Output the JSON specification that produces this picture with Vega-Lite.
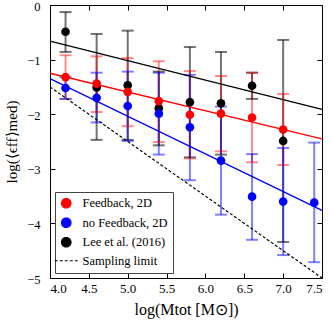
{
  "$schema": "https://vega.github.io/schema/vega-lite/v6.json",
  "width": 272,
  "height": 273,
  "autosize": {"type": "none"},
  "padding": {"left": 50, "top": 5, "right": 10, "bottom": 42},
  "background": "white",
  "config": {
    "view": {"stroke": "black", "strokeWidth": 1},
    "font": "Liberation Serif",
    "axis": {"grid": false, "domain": false, "tickColor": "black", "labelColor": "black", "titleColor": "black", "labelFont": "Liberation Serif", "titleFont": "Liberation Serif", "titleFontWeight": "normal"}
  },
  "datasets": {
    "pts": [
      {"series": "Lee et al. (2016)", "x": 4.2, "y": -0.49, "lo": -0.86, "hi": -0.13},
      {"series": "Lee et al. (2016)", "x": 4.6, "y": -1.51, "lo": -2.47, "hi": -0.53},
      {"series": "Lee et al. (2016)", "x": 5.0, "y": -1.47, "lo": -2.47, "hi": -0.47},
      {"series": "Lee et al. (2016)", "x": 5.4, "y": -1.89, "lo": -2.57, "hi": -1.22},
      {"series": "Lee et al. (2016)", "x": 5.8, "y": -1.78, "lo": -2.79, "hi": -0.77},
      {"series": "Lee et al. (2016)", "x": 6.2, "y": -1.80, "lo": -2.74, "hi": -0.86},
      {"series": "Lee et al. (2016)", "x": 6.6, "y": -1.48, "lo": -1.72, "hi": -1.24},
      {"series": "Lee et al. (2016)", "x": 7.0, "y": -2.49, "lo": -4.34, "hi": -0.64},
      {"series": "Feedback, 2D", "x": 4.2, "y": -1.32, "lo": -1.72, "hi": -0.92},
      {"series": "Feedback, 2D", "x": 4.6, "y": -1.44, "lo": -1.96, "hi": -0.94},
      {"series": "Feedback, 2D", "x": 5.0, "y": -1.59, "lo": -2.22, "hi": -0.97},
      {"series": "Feedback, 2D", "x": 5.4, "y": -1.76, "lo": -2.51, "hi": -1.03},
      {"series": "Feedback, 2D", "x": 5.8, "y": -2.01, "lo": -2.81, "hi": -1.21},
      {"series": "Feedback, 2D", "x": 6.2, "y": -1.99, "lo": -2.68, "hi": -1.30},
      {"series": "Feedback, 2D", "x": 6.6, "y": -2.06, "lo": -2.88, "hi": -1.24},
      {"series": "Feedback, 2D", "x": 7.0, "y": -2.28, "lo": -2.93, "hi": -1.63},
      {"series": "no Feedback, 2D", "x": 4.2, "y": -1.52, "lo": -1.72, "hi": -1.32},
      {"series": "no Feedback, 2D", "x": 4.6, "y": -1.70, "lo": -2.15, "hi": -1.24},
      {"series": "no Feedback, 2D", "x": 5.0, "y": -1.85, "lo": -2.49, "hi": -1.22},
      {"series": "no Feedback, 2D", "x": 5.4, "y": -1.99, "lo": -2.74, "hi": -1.24},
      {"series": "no Feedback, 2D", "x": 5.8, "y": -2.24, "lo": -3.21, "hi": -1.28},
      {"series": "no Feedback, 2D", "x": 6.2, "y": -2.85, "lo": -3.84, "hi": -1.86},
      {"series": "no Feedback, 2D", "x": 6.6, "y": -3.51, "lo": -4.30, "hi": -2.73},
      {"series": "no Feedback, 2D", "x": 7.0, "y": -3.60, "lo": -4.58, "hi": -2.62},
      {"series": "no Feedback, 2D", "x": 7.4, "y": -3.62, "lo": -4.71, "hi": -2.52}
    ],
    "fits": [
      {"series": "Lee et al. (2016)", "x": 4.0, "y": -0.66},
      {"series": "Lee et al. (2016)", "x": 7.5, "y": -1.91},
      {"series": "Feedback, 2D", "x": 4.0, "y": -1.25},
      {"series": "Feedback, 2D", "x": 7.5, "y": -2.45},
      {"series": "no Feedback, 2D", "x": 4.0, "y": -1.35},
      {"series": "no Feedback, 2D", "x": 7.5, "y": -3.76}
    ],
    "limit": [
      {"series": "Sampling limit", "x": 4.0, "y": -1.5},
      {"series": "Sampling limit", "x": 7.5, "y": -5.0}
    ]
  },
  "resolve": {"axis": {"x": "independent", "y": "independent"}},
  "layer": [
    {
      "data": {"name": "pts"},
      "mark": {"type": "rule", "strokeWidth": 2},
      "encoding": {
        "x": {"field": "x", "type": "quantitative", "scale": {"domain": [4, 7.5], "nice": false, "zero": false},
              "axis": {"orient": "bottom", "values": [4, 4.5, 5, 5.5, 6, 6.5, 7, 7.5], "format": ".1f", "tickSize": -5, "labelPadding": 9, "labelFontSize": 13, "title": "log(Mtot [M⊙])", "titleFontSize": 16, "titlePadding": 6}},
        "y": {"field": "lo", "type": "quantitative", "scale": {"domain": [-5, 0], "nice": false, "zero": false},
              "axis": {"orient": "left", "values": [-5, -4, -3, -2, -1, 0], "tickSize": -5, "labelPadding": 15, "labelFontSize": 12.5, "labelOffset": 1, "title": "log(⟨ϵff⟩med)", "titleFontSize": 15, "titlePadding": 7}},
        "y2": {"field": "hi"},
        "color": {"field": "series", "type": "nominal",
                  "scale": {"domain": ["Feedback, 2D", "no Feedback, 2D", "Lee et al. (2016)", "Sampling limit"], "range": ["#ff0000", "#0000ff", "#000000", "#000000"]},
                  "legend": {"title": null, "orient": "bottom-left", "offset": 5, "strokeColor": "#444", "fillColor": "white", "padding": 5, "labelFont": "Liberation Serif", "labelFontSize": 12.5, "labelColor": "black", "rowPadding": 4.5, "labelOffset": 10, "symbolSize": 90,
                    "encode": {"symbols": {"update": {
                      "shape": {"signal": "datum.value === 'Sampling limit' ? 'stroke' : 'circle'"},
                      "size": {"signal": "datum.value === 'Sampling limit' ? 529 : 90"},
                      "strokeDash": {"signal": "datum.value === 'Sampling limit' ? [3,2] : [1,0]"},
                      "stroke": {"signal": "datum.value === 'Sampling limit' ? 'black' : 'transparent'"},
                      "strokeWidth": {"value": 1.2},
                      "fill": {"signal": "datum.value === 'Sampling limit' ? 'transparent' : scale('color', datum.value)"},
                      "opacity": {"value": 1}
                    }}}}},
        "opacity": {"field": "series", "type": "nominal", "scale": {"domain": ["Feedback, 2D", "no Feedback, 2D", "Lee et al. (2016)"], "range": [0.45, 0.55, 0.75]}, "legend": null}
      }
    },
    {
      "data": {"name": "pts"},
      "mark": {"type": "tick", "orient": "horizontal", "size": 12, "thickness": 2},
      "encoding": {
        "x": {"field": "x", "type": "quantitative", "axis": null},
        "y": {"field": "lo", "type": "quantitative", "axis": null},
        "color": {"field": "series", "type": "nominal"},
        "opacity": {"field": "series", "type": "nominal", "legend": null}
      }
    },
    {
      "data": {"name": "pts"},
      "mark": {"type": "tick", "orient": "horizontal", "size": 12, "thickness": 2},
      "encoding": {
        "x": {"field": "x", "type": "quantitative", "axis": null},
        "y": {"field": "hi", "type": "quantitative", "axis": null},
        "color": {"field": "series", "type": "nominal"},
        "opacity": {"field": "series", "type": "nominal", "legend": null}
      }
    },
    {
      "data": {"name": "fits"},
      "mark": {"type": "line", "strokeWidth": 1.3},
      "encoding": {
        "x": {"field": "x", "type": "quantitative", "axis": null},
        "y": {"field": "y", "type": "quantitative", "axis": null},
        "color": {"field": "series", "type": "nominal"},
        "detail": {"field": "series"}
      }
    },
    {
      "data": {"name": "limit"},
      "mark": {"type": "line", "strokeWidth": 1.2, "strokeDash": [3, 2]},
      "encoding": {
        "x": {"field": "x", "type": "quantitative", "axis": null},
        "y": {"field": "y", "type": "quantitative", "axis": null},
        "color": {"field": "series", "type": "nominal"}
      }
    },
    {
      "data": {"name": "pts"},
      "mark": {"type": "circle", "size": 75, "opacity": 1},
      "encoding": {
        "x": {"field": "x", "type": "quantitative",
              "axis": {"orient": "top", "values": [4, 4.5, 5, 5.5, 6, 6.5, 7, 7.5], "tickSize": -5, "labels": false, "title": null}},
        "y": {"field": "y", "type": "quantitative",
              "axis": {"orient": "right", "values": [-5, -4, -3, -2, -1, 0], "tickSize": -5, "labels": false, "title": null}},
        "color": {"field": "series", "type": "nominal"}
      }
    }
  ]
}
